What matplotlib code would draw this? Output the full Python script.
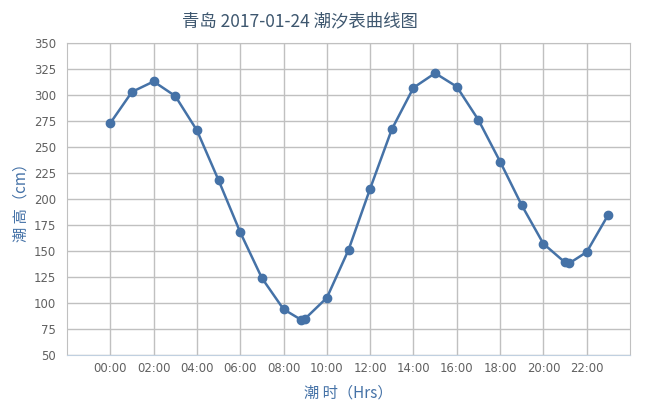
import matplotlib
matplotlib.use('Agg')
import matplotlib.pyplot as plt

# tide heights (cm), hours as decimals
hours = [0, 1, 2, 3, 4, 5, 6, 7, 8, 8.8, 9, 10, 11, 12, 13, 14, 15, 16,
         17, 18, 19, 20, 21, 21.18, 22, 23]
heights = [273, 303, 313, 299, 266, 218, 168, 124, 94, 84, 85, 105, 151, 210,
           267, 307, 321, 308, 276, 236, 194, 157, 139, 138, 149, 185]
tick_hours = list(range(0, 24, 2))
tick_labels = ['%02d:00' % h for h in tick_hours]
y_ticks = list(range(50, 351, 25))

plt.rcParams['font.family'] = ['Noto Sans CJK SC', 'DejaVu Sans']

fig = plt.figure(figsize=(6.66, 4.04), dpi=100)
ax = fig.add_axes([67 / 666, 49 / 404, 563 / 666, 312 / 404])

ax.plot(hours, heights, color='#4572A7', linewidth=1.8, marker='o',
        markersize=6, zorder=3)

ax.set_xlim(-2, 24)
ax.set_ylim(50, 350)
ax.set_xticks(tick_hours)
ax.set_xticklabels(tick_labels, family='DejaVu Sans')
ax.set_yticks(y_ticks)
ax.set_yticklabels([str(v) for v in y_ticks], family='DejaVu Sans')
ax.tick_params(axis='both', length=0, labelsize=8.4, labelcolor='#606060')
ax.tick_params(axis='x', pad=5)
ax.tick_params(axis='y', pad=8)

ax.grid(True, color='#C0C0C0', linewidth=1)
ax.set_axisbelow(True)
for side in ['left', 'top', 'right']:
    ax.spines[side].set_color('#C0C0C0')
ax.spines['bottom'].set_color('#C0D0E0')

ax.set_xlabel('潮 时（Hrs）', color='#4572A7', fontsize=11, labelpad=7)
ax.set_ylabel('潮 高（cm）', color='#4572A7', fontsize=11, labelpad=3)
fig.text(300 / 666, 1 - 21 / 404, '青岛 2017-01-24 潮汐表曲线图',
         ha='center', va='center', fontsize=12.5, color='#3E576F')

plt.savefig('out.png', dpi=100)
plt.close()
